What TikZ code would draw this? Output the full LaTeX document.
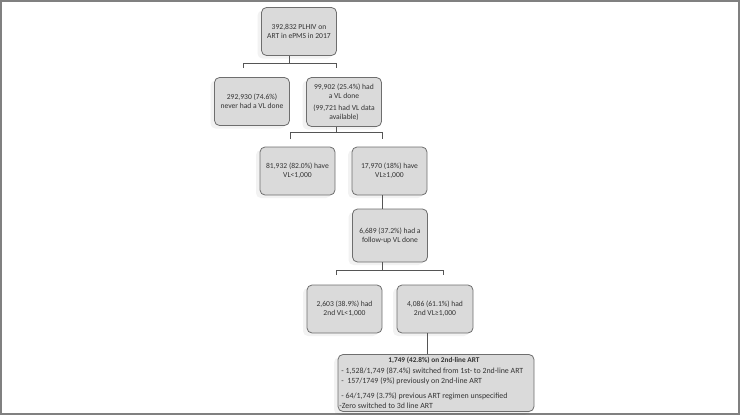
\documentclass[tikz,border=0pt]{standalone}
\usepackage{fontspec}
\setmainfont{Carlito}
\usetikzlibrary{shadows}
\definecolor{boxfill}{HTML}{DADADA}
\definecolor{boxline}{HTML}{6E6E6E}
\definecolor{linkgray}{HTML}{555555}
\definecolor{txt}{HTML}{333333}
\begin{document}
\begin{tikzpicture}[x=1pt, y=-1pt, line width=0.8pt,
  font=\fontsize{7.6}{8.9}\selectfont, text=txt,
  bx/.style={draw=boxline, fill=boxfill, rounded corners=5pt, align=center,
    inner sep=0pt, minimum width=#1, minimum height=48pt,
    general shadow={shadow xshift=-4pt, shadow yshift=-3pt, fill=black, opacity=0.05}},
  bx/.default=75pt,
  ln/.style={inner sep=0pt, anchor=base west, font=\fontsize{7.9}{8.9}\selectfont},
  link/.style={draw=linkgray, line width=0.8pt}]
  \useasboundingbox (0,0) rectangle (740,415);
  \draw[gray, line width=1.6pt] (0.8,0.8) rectangle (739.2,413.8);
  % boxes, centres in pixels of the original
  \node[bx] (plhiv) at (299,31.5) {392,832 PLHIV on\\ART in ePMS in 2017};
  \node[bx] (novl) at (252,101.5) {292,930 (74.6\%)\\never had a VL done};
  \node[bx, minimum height=49pt] (vldone) at (344,102) {99,902 (25.4\%) had\\a VL done\\[3.5pt]
    (99,721 had VL data\\available)};
  \node[bx] (low) at (297.5,171) {81,932 (82.0\%) have\\VL<1,000};
  \node[bx] (high) at (389.5,171) {17,970 (18\%) have\\VL≥1,000};
  \node[bx, minimum height=53pt] (follow) at (390,235.5) {6,689 (37.2\%) had a\\follow-up VL done};
  \node[bx] (low2) at (344.5,309) {2,603 (38.9\%) had\\2nd VL<1,000};
  \node[bx, minimum width=76pt] (high2) at (435,309) {4,086 (61.1\%) had\\2nd VL≥1,000};
  \node[bx=196pt, minimum height=57pt] (second) at (436,383) {};
  \node[inner sep=0pt, anchor=base, font=\fontsize{7.3}{8.8}\selectfont\bfseries] (title) at (434,362) {1,749 (42.8\%) on 2nd-line ART};
  \node[ln] (l1) at (341,373) {- 1,528/1,749 (87.4\%) switched from 1st- to 2nd-line ART};
  \node[ln] (l2) at (341,383.5) {-\ \ 157/1749 (9\%) previously on 2nd-line ART};
  \node[ln] (l3) at (341,398) {- 64/1,749 (3.7\%) previous ART regimen unspecified};
  \node[ln] (l4) at (339,408.5) {-Zero switched to 3d line ART};
  % brackets under the boxes
  \coordinate (b1) at (289,63);  \coordinate (b1l) at (243,68);  \coordinate (b1r) at (336,68);
  \coordinate (b2) at (336,132); \coordinate (b2l) at (290,139); \coordinate (b2r) at (382,139);
  \coordinate (b3) at (382,270); \coordinate (b3l) at (336,275); \coordinate (b3r) at (443,275);
  \draw[link] (plhiv.south -| b1) -- (b1);
  \draw[link] (b1l) -- (b1l |- b1) -- (b1r |- b1) -- (b1r);
  \draw[link] (vldone.south -| b2) -- (b2);
  \draw[link] (b2l) -- (b2l |- b2) -- (b2r |- b2) -- (b2r);
  \draw[link] (high.south -| b2r) -- (follow.north -| b2r);
  \draw[link] (follow.south -| b3) -- (b3);
  \draw[link] (b3l) -- (b3l |- b3) -- (b3r |- b3) -- (b3r);
  \draw[link] (high2.south -| 427,0) -- (second.north -| 427,0);
\end{tikzpicture}
\end{document}
